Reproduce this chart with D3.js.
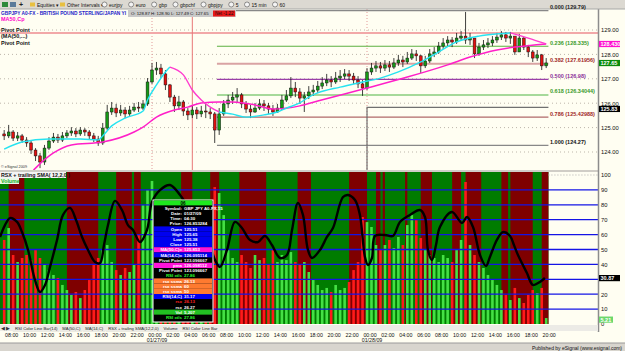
<!DOCTYPE html>
<html><head><meta charset="utf-8">
<script src="https://cdn.jsdelivr.net/npm/d3@7"></script>
<style>
html,body{margin:0;padding:0;background:#fffef2;overflow:hidden}
svg{display:block;font-family:"Liberation Sans",Arial,sans-serif}
</style></head><body><svg id="c" width="625" height="351"></svg>
<script>
// ---------------- DATA ----------------
const barStartUTC = Date.UTC(2009,0,26,7,30);   // first 30-min bar
const barMinutes = 30;
const firstOpen = 124.74;
const closes = [124.66,124.82,124.57,124.66,124.49,124.37,124.08,123.84,123.59,124.16,
124.45,124.61,124.49,124.66,124.78,124.86,124.74,124.90,124.82,124.66,
124.53,124.37,124.98,125.64,125.80,125.60,125.72,125.56,125.72,125.84,
125.80,125.97,126.87,127.36,127.44,127.20,126.75,126.25,125.89,126.05,
125.68,125.52,125.72,125.56,125.68,125.64,125.56,124.90,125.56,125.97,
126.13,126.25,126.34,125.97,125.76,125.64,125.80,125.97,125.89,125.76,
125.64,125.80,126.13,126.30,126.62,126.46,126.21,126.30,126.46,126.54,
126.70,126.83,126.95,126.87,127.03,127.11,127.20,127.11,126.95,126.79,
126.62,127.28,127.44,127.53,127.44,127.57,127.48,127.65,127.77,127.69,
127.85,128.02,127.94,127.53,127.73,128.02,128.10,128.34,128.47,128.59,
128.51,128.67,128.75,128.59,128.67,128.02,128.30,128.39,128.47,128.59,
128.71,128.80,128.67,128.75,128.10,128.67,128.30,128.10,127.85,127.98,
127.53,127.65];
const highs = [124.90,125.11,124.90,124.82,124.74,124.61,124.45,124.16,123.96,124.29,
124.61,124.78,124.74,124.82,124.90,125.02,124.98,125.02,124.98,124.90,
124.78,124.66,125.19,125.93,126.05,125.97,125.93,125.84,125.89,126.01,
126.05,126.13,127.03,127.65,127.69,127.61,127.36,126.79,126.34,126.30,
126.13,125.80,125.89,125.84,125.89,125.97,125.80,125.64,125.80,126.13,
126.34,126.46,126.62,126.42,126.09,125.93,126.01,126.17,126.13,126.01,
125.93,125.97,126.34,126.54,127.07,126.87,126.62,126.46,126.70,126.75,
126.91,127.07,127.20,127.11,127.28,127.36,127.40,127.36,127.24,127.11,
126.95,127.44,127.65,127.73,127.69,127.77,127.73,127.85,127.98,127.94,
128.10,128.22,128.18,127.98,127.94,128.22,128.30,128.51,128.67,128.75,
128.71,128.88,128.96,129.74,128.88,128.67,128.47,128.59,128.67,128.75,
128.88,128.96,128.92,128.92,128.71,128.84,128.71,128.39,128.18,128.18,
128.02,127.85];
const lows = [124.49,124.57,124.45,124.45,124.37,124.21,123.92,123.63,123.34,123.47,
124.08,124.37,124.37,124.41,124.57,124.66,124.61,124.66,124.66,124.53,
124.41,124.25,124.29,124.90,125.52,125.43,125.48,125.39,125.48,125.64,
125.64,125.72,125.89,126.79,127.16,127.03,126.54,126.05,125.64,125.72,
125.48,125.31,125.39,125.35,125.43,125.39,125.35,124.37,124.70,125.48,
125.80,125.97,126.05,125.80,125.60,125.39,125.60,125.72,125.68,125.56,
125.48,125.60,125.72,126.05,126.21,126.25,125.97,125.64,126.17,126.30,
126.42,126.58,126.70,126.66,126.79,126.87,126.99,126.91,126.79,126.62,
126.30,126.54,127.16,127.28,127.24,127.32,127.28,127.40,127.53,127.48,
127.61,127.77,127.73,127.24,127.44,127.65,127.89,128.02,128.22,128.34,
128.30,128.43,128.55,128.43,128.39,127.85,127.94,128.18,128.26,128.34,
128.47,128.59,128.51,128.43,127.98,128.10,128.18,127.89,127.69,127.73,
127.36,127.44];
const volumes = [564,644,463,416,443,463,429,497,443,396,
362,329,309,262,228,195,215,174,228,295,
396,443,497,530,416,362,329,376,349,396,
597,798,899,960,832,731,560,520,480,450,
470,430,460,410,440,500,560,919,879,731,
497,443,416,463,416,376,463,429,443,396,
497,416,463,429,483,416,396,416,349,295,
262,228,242,215,262,228,242,282,362,416,
718,684,651,530,497,530,564,510,584,530,
664,731,698,577,497,463,443,416,463,443,
416,497,564,953,530,463,416,376,329,295,
262,228,195,161,242,174,141,195,228,208,
242,40];
// moving averages, read at selected bars
const fastMAIdx = [0,4,10,17,21,22,24,27,31,32,34,36,37,40,42,44,46,48,51,54,58,61,63,66,68,70,75,79,84,88,93,97,101,106,110,113,115,117,121];
const fastMAVal = [124.12,124.41,124.53,124.53,124.49,124.66,125.07,125.39,125.68,126.13,126.75,127.28,127.48,127.16,126.54,126.13,125.84,125.64,125.55,125.43,125.52,125.64,125.80,126.01,126.25,126.42,126.66,126.83,127.03,127.28,127.69,128.10,128.51,128.75,128.84,128.88,128.78,128.67,128.43];
const slowMAIdx = [0,4,7,11,15,22,29,31,34,38,41,44,48,51,56,60,66,70,81,90,99,104,110,114,121];
const slowMAVal = [122.45,122.73,123.34,123.96,124.29,124.41,124.82,125.02,125.43,125.72,125.84,126.01,126.05,126.05,125.93,125.76,125.89,126.09,126.62,127.07,127.57,127.89,128.18,128.30,128.43];
// Fibonacci retracement
const fibRatios = ["0.000","0.236","0.382","0.500","0.618","0.786","1.000"];
const fibPrices = [129.79,128.335,127.61956,126.98,126.34044,125.42988,124.27];
const fibStartHour = 7.25, fibEndHour = 44.25;
// pivot points (hours from 01/27/09 00:00)
const pivotHours = [0,24];
const pivotValues = [123.096667,125.83];
const resistanceLevel = 128.88;
const cursorHour = 4.5;
// RSX (hours from 01/27/09 00:00, value)
const rsxHour = [-16.96,-16.41,-15.85,-15.07,-14.51,-13.84,-13.06,-12.50,-11.94,-11.38,-10.60,-9.93,-9.15,-8.48,-7.81,-7.14,-6.36,-5.80,-5.36,-4.91,-4.13,-3.35,-2.68,-2.12,-1.34,-0.56,
0,0.89,2.01,3.13,4.24,5.36,6.47,7.03,7.59,8.37,9.26,10.04,10.94,11.83,12.61,13.39,14.29,15.07,15.63,16.29,16.85,17.41,17.86,18.75,19.53,20.20,21.32,21.88,22.66,23.21,23.77,24.11,24.55,24.89,26.00,26.90,27.68,28.79,29.91,30.47,30.80,31.25,31.70,32.14,33.48,34.60,35.16,35.83,36.61,37.28,37.72,38.50,39.17,39.96,40.40,40.85,41.85,42.52,43.30,43.86];
const rsxVal = [58.4,66.4,71.1,68.5,61.7,49.7,29.5,21.5,26.2,38.3,56.4,73.2,77.9,69.8,58.4,49.7,41.6,40.9,53.0,66.4,82.6,76.5,66.4,63.1,55.0,63.1,
81.9,89.9,93.3,86.6,76.5,66.4,53.0,43.0,38.3,49.7,68.5,64.4,56.4,55.0,59.1,53.0,44.3,46.3,63.1,81.2,73.2,49.7,44.3,49.7,58.4,64.4,85.2,86.6,83.2,73.2,45.0,39.6,44.3,59.1,59.7,59.1,68.5,73.2,76.5,71.8,49.7,43.0,53.0,65.1,75.2,67.8,71.8,65.1,46.3,38.9,45.0,56.4,61.7,59.1,53.0,46.3,34.2,26.2,28.2,30.87];
const redBandStart = [-16.0,-9.5,-4.0,-2.0,3.25,6.5,9.75,16.25,22.0,25.0,25.75,28.25,30.0,33.5,35.0,39.0,40.0,43.5];
const redBandEnd   = [-14.25,-6.0,-2.25,-1.25,4.5,7.5,12.75,17.75,24.0,25.5,26.0,28.5,31.25,34.5,36.75,39.75,42.5,44.25];
const rsiLevels = [10,20,30,40,50,60,70,80,90];
const rsiTicks = [0,10,20,40,50,60,70,80,90,100];   // 30 is covered by the RSX value tag
const priceTicks = [124,125,126,127,128,129];
const lastVolumeLabel = "5.21";
// data window
const popupLabels = ["06","Symbol:","Date:","Time:","Price:","Open","High","Low","Close","MA(50,C)=","MA(14,C)=","Pivot Point","pma","Pivot Point","RSI xtls","rsx ssma","rsx ssma","rsx ssma","RSI(14,C)","rsx","rsx","Vol","RSI xtls"];
const popupValues = ["","GBP JPY A0-FX,15","01/27/09","04:30","126.853284","125.51","125.65","125.38","125.51","125.853","126.095114","123.096667","126.098112","123.096667","27.86","26.13","60","50","31.17","26.13","26.27","5,207","27.86"];
const popupKinds  = ["head","k","k","k","k","b","b","b","b","m","b","k","m","k","kg","o","o","o","b","kr","k","g","kg"];
const toolbarItems = ["eurjpy","euro","gbp","gbpchf","gbpjpy","5","15 min","60"];
const tabNames = ["RSI Color Line Bar(14)","MA(50,C)","MA(14,C)","RSX + trailing SMA(12,2,0)","Volume","RSI Color Line Bar"];

// ---------------- DRAW ----------------
const W=625,H=351,AX=598;
const svg=d3.select("#c");
const x=d3.scaleUtc().domain([new Date(Date.UTC(2009,0,26,7,2)),new Date(Date.UTC(2009,0,29,1,47))]).range([0,AX]);
const barT=i=>new Date(barStartUTC+i*barMinutes*60000);
const hourT=h=>new Date(Date.UTC(2009,0,27)+h*3600000);
const yP=d3.scaleLinear().domain([124,129]).range([152,30]);
const yR=d3.scaleLinear().domain([0,100]).range([324,175]);
const yV=d3.scaleLinear().domain([0,1000]).range([324,175]);
const P_TOP=9,P_BOT=170,R_TOP=172,R_BOT=324;

svg.append("rect").attr("width",W).attr("height",H).attr("fill","#fffef2");
const defs=svg.append("defs");
defs.append("clipPath").attr("id","cp").append("rect").attr("x",0).attr("y",P_TOP).attr("width",AX).attr("height",P_BOT-P_TOP);
defs.append("clipPath").attr("id","cr").append("rect").attr("x",0).attr("y",R_TOP).attr("width",AX).attr("height",R_BOT-R_TOP);

// ---- price pane
const gp=svg.append("g").attr("clip-path","url(#cp)");
priceTicks.forEach(t=>gp.append("line").attr("x1",0).attr("x2",AX).attr("y1",yP(t)).attr("y2",yP(t))
  .attr("stroke","#bdb6aa").attr("stroke-dasharray","1,3"));
[0,24].forEach(h=>gp.append("line").attr("x1",x(hourT(h))).attr("x2",x(hourT(h))).attr("y1",P_TOP).attr("y2",P_BOT)
  .attr("stroke","#e39a9a").attr("stroke-dasharray","1,2"));
gp.append("line").attr("x1",0).attr("x2",AX).attr("y1",yP(resistanceLevel)).attr("y2",yP(resistanceLevel))
  .attr("stroke","#f2a8a8").attr("stroke-width",2);
const fibColors=["#888888","#5cb040","#d9a3a3","#9a3fa8","#a6d99a","#b06868","#888888"];
const fibText=["#222","#3a9a2a","#a02828","#8a2f98","#3a9a2a","#a02828","#111"];
fibPrices.forEach((p,k)=>gp.append("line").attr("x1",x(hourT(fibStartHour))).attr("x2",x(hourT(fibEndHour)))
  .attr("y1",yP(p)).attr("y2",yP(p)).attr("stroke",fibColors[k]).attr("stroke-width",k==2||k==4?2:1.2));
// pivot step line
const pv=d3.path();
pv.moveTo(x(hourT(pivotHours[0])),yP(pivotValues[0]));
pv.lineTo(x(hourT(pivotHours[1])),yP(pivotValues[0]));
pv.lineTo(x(hourT(pivotHours[1])),yP(pivotValues[1]));
pv.lineTo(x(hourT(fibEndHour)),yP(pivotValues[1]));
gp.append("path").attr("d",pv.toString()).attr("fill","none").attr("stroke","#707070").attr("stroke-width",1.2);
// cursor
gp.append("line").attr("x1",x(hourT(cursorHour))).attr("x2",x(hourT(cursorHour))).attr("y1",P_TOP).attr("y2",P_BOT)
  .attr("stroke","#e87878").attr("stroke-width",1);
// candles
closes.forEach((c,i)=>{
  const o=i==0?firstOpen:closes[i-1];
  const cx=x(barT(i));
  const up=c>=o;
  gp.append("line").attr("x1",cx).attr("x2",cx).attr("y1",yP(highs[i])).attr("y2",yP(lows[i])).attr("stroke","#111").attr("stroke-width",0.8);
  const yt=yP(Math.max(o,c)), yb=yP(Math.min(o,c));
  gp.append("rect").attr("x",cx-1.4).attr("y",yt).attr("width",2.8).attr("height",Math.max(0.8,yb-yt))
    .attr("fill",up?"#169a16":"#e01010").attr("stroke","#111").attr("stroke-width",0.5);
});
// MAs
const slowPts=slowMAIdx.map((i,k)=>[x(barT(i)),yP(slowMAVal[k])]);
gp.append("path").attr("d",d3.line().curve(d3.curveMonotoneX)(slowPts)).attr("fill","none").attr("stroke","#ff1fc8").attr("stroke-width",1.5);
const fastPts=fastMAIdx.map((i,k)=>({p:[x(barT(i)),yP(fastMAVal[k])],fall:k>0&&(fastMAVal[k]-fastMAVal[k-1])/(i-fastMAIdx[k-1])<-0.045}));
let runs=[],cur=null;
for(let k=1;k<fastPts.length;k++){
  const f=fastPts[k].fall;
  if(!cur||cur.fall!==f){cur={fall:f,pts:[fastPts[k-1].p]};runs.push(cur);}
  cur.pts.push(fastPts[k].p);
}
runs.forEach(r=>gp.append("path").attr("d",d3.line().curve(d3.curveMonotoneX)(r.pts)).attr("fill","none")
  .attr("stroke",r.fall?"#ff3ccf":"#27e3f0").attr("stroke-width",1.4));

// price pane texts
svg.append("text").attr("x",1).attr("y",15).attr("font-size",4.8).attr("font-weight","bold").attr("fill","#1c1cc8")
  .text("GBPJPY A0-FX - BRITISH POUND STERLING/JAPAN YI");
svg.append("rect").attr("x",128).attr("y",10).attr("width",108).attr("height",7).attr("fill","#c9c9c9");
svg.append("text").attr("x",131).attr("y",15.3).attr("font-size",4.3).attr("fill","#111")
  .text("O: 128.87  H: 128.90  L: 127.49  C: 127.65");
svg.append("rect").attr("x",213).attr("y",10.5).attr("width",22).attr("height",6).attr("fill","#e81818");
svg.append("text").attr("x",215).attr("y",15.3).attr("font-size",4.5).attr("fill","#111").text("Net -1.22");
svg.append("text").attr("x",1).attr("y",21).attr("font-size",5.5).attr("font-weight","bold").attr("fill","#ff00cc").text("MA50,Cp");
svg.append("text").attr("x",1).attr("y",32).attr("font-size",5.5).attr("font-weight","bold").attr("fill","#111").text("Pivot Point");
svg.append("text").attr("x",1).attr("y",38).attr("font-size",5.5).attr("font-weight","bold").attr("fill","#111").text("(MA(50,...)");
svg.append("text").attr("x",1).attr("y",45).attr("font-size",5.5).attr("font-weight","bold").attr("fill","#111").text("Pivot Point");
svg.append("text").attr("x",1).attr("y",168).attr("font-size",3.8).attr("fill","#333").text("© eSignal 2009");
// fib labels
fibPrices.forEach((p,k)=>{ if(k>0) svg.append("text").attr("x",550).attr("y",yP(p)-1.5).attr("font-size",5.5).attr("font-weight","bold")
  .attr("fill",fibText[k]).text(fibRatios[k]+" ("+p+")");});

// ---- RSI pane
const gr=svg.append("g").attr("clip-path","url(#cr)");
const bandEndX=x(hourT(fibEndHour));
gr.append("rect").attr("x",0).attr("y",R_TOP).attr("width",bandEndX).attr("height",R_BOT-R_TOP).attr("fill","#007c00");
redBandStart.forEach((s,k)=>gr.append("rect").attr("x",x(hourT(s))).attr("y",R_TOP)
  .attr("width",x(hourT(redBandEnd[k]))-x(hourT(s))).attr("height",R_BOT-R_TOP).attr("fill","#7f0000"));
volumes.forEach((v,i)=>{
  const o=i==0?firstOpen:closes[i-1];
  gr.append("rect").attr("x",x(barT(i))-1.3).attr("y",yV(v)).attr("width",2.6).attr("height",R_BOT-yV(v))
    .attr("fill",closes[i]>=o?"#45e045":"#ff1a1a");
});
gr.append("line").attr("x1",bandEndX).attr("x2",AX).attr("y1",yR(100)).attr("y2",yR(100)).attr("stroke","#b0b0b0").attr("stroke-dasharray","1,2");
rsiLevels.forEach(l=>gr.append("line").attr("x1",0).attr("x2",AX).attr("y1",yR(l)).attr("y2",yR(l)).attr("stroke","#1414e6").attr("stroke-width",1.3));
const rsxPts=rsxHour.map((h,k)=>[x(hourT(h)),yR(rsxVal[k])]);
gr.append("path").attr("d",d3.line().curve(d3.curveCatmullRom.alpha(0.5))(rsxPts)).attr("fill","none").attr("stroke","#000").attr("stroke-width",2.4);
// RSI titles
svg.append("rect").attr("x",0).attr("y",172).attr("width",66).attr("height",6).attr("fill","#f4f4f4");
svg.append("text").attr("x",1).attr("y",177).attr("font-size",5.3).attr("font-weight","bold").attr("fill","#111").text("RSX + trailing SMA( 12,2,0 )");
svg.append("rect").attr("x",0).attr("y",178).attr("width",19).attr("height",6).attr("fill","#e8f8e8");
svg.append("text").attr("x",1).attr("y",183).attr("font-size",5.3).attr("font-weight","bold").attr("fill","#20b020").text("Volume");
// popup
const pop=svg.append("g");
pop.append("rect").attr("x",153).attr("y",200).attr("width",60).attr("height",122).attr("fill","#000").attr("stroke","#fff").attr("stroke-width",1);
const kindBg={head:"#1ee81e",k:"#000",b:"#0000f0",m:"#ff14d8",kg:"#000",o:"#ff7a30",kr:"#000",g:"#22c022"};
const kindFg={head:"#000",k:"#fff",b:"#fff",m:"#fff",kg:"#2cff2c",o:"#fff",kr:"#ff2020",g:"#fff"};
popupLabels.forEach((lab,k)=>{
  const cy=203+5.2*k, kind=popupKinds[k];
  pop.append("rect").attr("x",154).attr("y",cy-2.6).attr("width",58).attr("height",5.2).attr("fill",kindBg[kind]);
  if(kind==="head"){
    pop.append("text").attr("x",183).attr("y",cy+1.6).attr("text-anchor","middle").attr("font-size",4.6).attr("font-weight","bold").attr("fill",kindFg[kind]).text(lab);
  } else {
    pop.append("text").attr("x",182).attr("y",cy+1.6).attr("text-anchor","end").attr("font-size",4.4).attr("font-weight","bold").attr("fill",kindFg[kind]).text(lab);
    pop.append("text").attr("x",184).attr("y",cy+1.6).attr("font-size",4.4).attr("font-weight","bold").attr("fill",kindFg[kind]).text(popupValues[k]);
  }
});

// separators / axes
svg.append("rect").attr("x",0).attr("y",170).attr("width",AX).attr("height",2).attr("fill","#d0cdc6");
svg.append("line").attr("x1",AX+0.5).attr("x2",AX+0.5).attr("y1",P_TOP).attr("y2",332).attr("stroke","#8c8c8c").attr("stroke-width",1.5);
const pAx=svg.append("g").attr("transform",`translate(${AX+2},0)`)
  .call(d3.axisRight(yP).tickValues(priceTicks).tickFormat(d3.format(".2f")).tickSize(0).tickPadding(1));
pAx.select(".domain").remove();
pAx.selectAll("text").attr("font-size",5.8).attr("font-family","Liberation Sans").attr("fill","#111");
const rAx=svg.append("g").attr("transform",`translate(${AX+2},0)`)
  .call(d3.axisRight(yR).tickValues(rsiTicks).tickFormat(d3.format("d")).tickSize(0).tickPadding(1));
rAx.select(".domain").remove();
rAx.selectAll("text").attr("font-size",5.8).attr("font-family","Liberation Sans").attr("fill","#111");
function tag(val,y,bg,fg,w){
  svg.append("rect").attr("x",AX+1).attr("y",y-3).attr("width",w||21).attr("height",6.2).attr("fill",bg);
  svg.append("text").attr("x",AX+2.5).attr("y",y+2).attr("font-size",5.5).attr("font-weight","bold").attr("fill",fg).text(val);
}
tag(slowMAVal[slowMAVal.length-1].toFixed(3),yP(slowMAVal[slowMAVal.length-1]),"#ff10d0","#fff");
tag(closes[closes.length-1].toFixed(2),yP(closes[closes.length-1]),"#0a8a0a","#fff");
tag(pivotValues[1].toFixed(2),yP(pivotValues[1])+1.5,"#000","#fff");
tag(rsxVal[rsxVal.length-1].toFixed(2),yR(rsxVal[rsxVal.length-1]),"#000","#fff");
tag(lastVolumeLabel,yR(3),"#6cd86c","#fff",14);

// time axis area
svg.append("rect").attr("x",0).attr("y",325).attr("width",AX).attr("height",6).attr("fill","#ecebe6");
svg.append("text").attr("x",1).attr("y",330).attr("font-size",5).attr("fill","#333").text("◀ ▶");
let tx=13;
tabNames.forEach(t=>{
  const tt=svg.append("text").attr("x",tx+2).attr("y",330).attr("font-size",4.2).attr("fill","#222").text(t);
  const w=tt.node().getComputedTextLength();
  svg.insert("rect","text").attr("x",tx).attr("y",325.5).attr("width",w+4).attr("height",5.5).attr("fill","#fff").attr("stroke","#999").attr("stroke-width",0.4);
  tx+=w+5;
});
const ticks=d3.utcHour.every(2).range(new Date(Date.UTC(2009,0,26,8)),new Date(Date.UTC(2009,0,28,21)));
const fH=d3.utcFormat("%H:%M"), fD=d3.utcFormat("%m/%d/%y");
ticks.forEach(t=>{
  svg.append("text").attr("x",x(t)+3).attr("y",337).attr("text-anchor","middle").attr("font-size",5.3).attr("fill","#111").text(fH(t));
  if(t.getUTCHours()===0) svg.append("text").attr("x",x(t)+5).attr("y",342).attr("text-anchor","middle").attr("font-size",5.3).attr("fill","#111").text(fD(t));
});
// status bar
svg.append("rect").attr("x",0).attr("y",343).attr("width",W).attr("height",8).attr("fill","#d8d5ce");
svg.append("line").attr("x1",0).attr("x2",W).attr("y1",343).attr("y2",343).attr("stroke","#9a9a9a");
svg.append("text").attr("x",622).attr("y",349.5).attr("text-anchor","end").attr("font-size",5).attr("fill","#111").text("Published by eSignal (www.esignal.com)");

// toolbar
svg.append("rect").attr("x",0).attr("y",0).attr("width",W).attr("height",9).attr("fill","#dcd9d2");
svg.append("line").attr("x1",0).attr("x2",W).attr("y1",9).attr("y2",9).attr("stroke","#a8a8a8");
svg.append("rect").attr("x",2).attr("y",2).attr("width",6).attr("height",5).attr("fill","#2f8a3a");
svg.append("rect").attr("x",10).attr("y",2).attr("width",6).attr("height",5).attr("fill","#5a7a9a");
svg.append("text").attr("x",19).attr("y",7).attr("font-size",7).attr("font-weight","bold").attr("fill","#222").text("+");
svg.append("rect").attr("x",30).attr("y",2.5).attr("width",5).attr("height",4).attr("fill","#e8c040");
svg.append("text").attr("x",37).attr("y",6.5).attr("font-size",5).attr("fill","#111").text("Equities ▾");
svg.append("rect").attr("x",60).attr("y",2.5).attr("width",5).attr("height",4).attr("fill","#e8c040");
svg.append("text").attr("x",67).attr("y",6.5).attr("font-size",5).attr("fill","#111").text("Other Intervals ▾");
let bx=102;
toolbarItems.forEach(t=>{
  svg.append("circle").attr("cx",bx+2.5).attr("cy",4.5).attr("r",2.5).attr("fill","#f4f4f4").attr("stroke","#333").attr("stroke-width",0.5);
  const tt=svg.append("text").attr("x",bx+7).attr("y",6.5).attr("font-size",5).attr("fill","#111").text(t);
  bx+=7+tt.node().getComputedTextLength()+6;
});
svg.append("text").attr("x",550).attr("y",8.5).attr("font-size",5.5).attr("font-weight","bold").attr("fill","#222").text(fibRatios[0]+" ("+fibPrices[0]+")");
</script></body></html>
